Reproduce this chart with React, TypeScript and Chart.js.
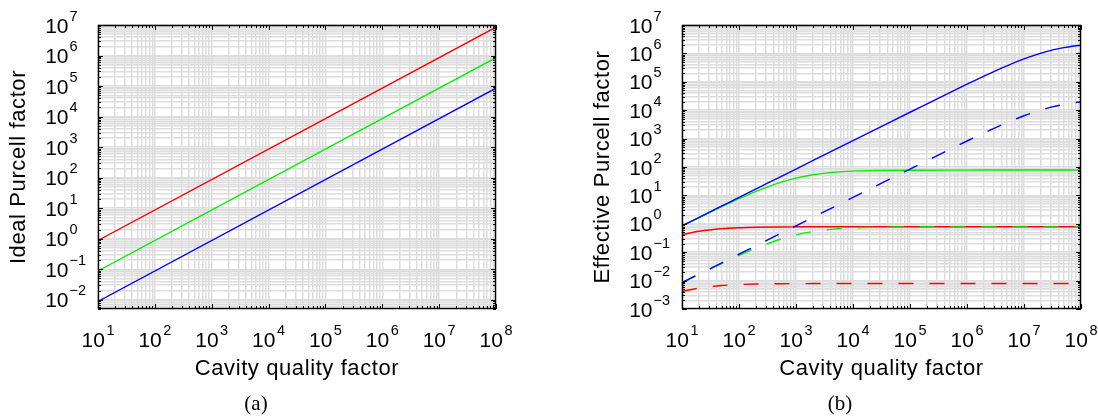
import { useEffect, useRef } from "react";
import { Chart, registerables } from "chart.js";

Chart.register(...registerables);

// ---------- Panel (a): ideal Purcell factor ----------
const qualityA = [10, 1e8];
const idealRed = [0.88, 8.5e6];
const idealGreen = [0.088, 8.5e5];
const idealBlue = [0.0088, 8.5e4];

// ---------- Panel (b): effective Purcell factor ----------
const qualityB = [10, 20, 50, 100, 200, 500, 1e3, 2e3, 5e3, 1e4, 3e4, 1e5, 1e6, 2e6, 5e6, 1e7, 2e7, 3e7, 5e7, 7e7, 1e8];
const effBlue = [0.85, 1.7, 4.25, 8.5, 17, 42.5, 85, 170, 425, 850, 2550, 8470, 8.23e4, 1.59e5, 3.64e5, 6.38e5, 1.02e6, 1.28e6, 1.59e6, 1.79e6, 1.96e6];
const effBlueDashed = [0.0085, 0.017, 0.0425, 0.085, 0.17, 0.425, 0.85, 1.7, 4.25, 8.5, 25.5, 84.7, 823, 1590, 3640, 6380, 1.02e4, 1.28e4, 1.59e4, 1.79e4, 1.96e4];
const effGreen = [0.84, 1.66, 4.03, 7.67, 13.97, 27.5, 40.7, 53.6, 66.1, 71.6, 75.9, 77.3, 77.9, 78, 78, 78, 78, 78, 78, 78, 78];
const effGreenDashed = [0.0084, 0.0166, 0.0403, 0.0767, 0.1397, 0.275, 0.407, 0.536, 0.661, 0.716, 0.759, 0.773, 0.779, 0.78, 0.78, 0.78, 0.78, 0.78, 0.78, 0.78, 0.78];
const effRed = [0.416, 0.545, 0.67, 0.725, 0.756, 0.776, 0.783, 0.786, 0.788, 0.789, 0.79, 0.79, 0.79, 0.79, 0.79, 0.79, 0.79, 0.79, 0.79, 0.79, 0.79];
const effRedDashed = [0.00416, 0.00545, 0.0067, 0.00725, 0.00756, 0.00776, 0.00783, 0.00786, 0.00788, 0.00789, 0.0079, 0.0079, 0.0079, 0.0079, 0.0079, 0.0079, 0.0079, 0.0079, 0.0079, 0.0079, 0.0079];

// ---------- Axes ----------
const xExponents = [1, 2, 3, 4, 5, 6, 7, 8];
const yExponentsA = [-2, -1, 0, 1, 2, 3, 4, 5, 6, 7];
const yExponentsB = [-3, -2, -1, 0, 1, 2, 3, 4, 5, 6, 7];
const xTitle = "Cavity quality factor";
const yTitleA = "Ideal Purcell factor";
const yTitleB = "Effective Purcell factor";
const captionA = "(a)";
const captionB = "(b)";

const SANS = "'Liberation Sans', Arial, sans-serif";
const SERIF = "'Liberation Serif', 'DejaVu Serif', serif";
const GRID = "rgb(221,221,221)";

function logTickValues(min: number, max: number) {
  const out: number[] = [];
  const e0 = Math.floor(Math.log10(min));
  const e1 = Math.ceil(Math.log10(max));
  for (let e = e0; e <= e1; e++) {
    for (let m = 1; m <= 9; m++) {
      const v = parseFloat((m * Math.pow(10, e)).toPrecision(6));
      if (v >= min * 0.9999 && v <= max * 1.0001) out.push(v);
    }
  }
  return out;
}

function isMajor(v: number) {
  const l = Math.log10(v);
  return Math.abs(l - Math.round(l)) < 1e-6;
}

function expText(e: number) {
  return e < 0 ? "\u2212" + String(-e) : String(e);
}

function makeDecor(yExps: number[], yTitle: string, caption: string) {
  return {
    id: "decor",
    afterDraw(chart: any) {
      const ctx = chart.ctx as CanvasRenderingContext2D;
      const { left, right, top, bottom } = chart.chartArea;
      const xs = chart.scales.x;
      const ys = chart.scales.y;
      ctx.save();
      // tick marks inside the box
      ctx.strokeStyle = "#000";
      ctx.lineWidth = 1;
      ctx.beginPath();
      for (const v of logTickValues(xs.min, xs.max)) {
        const p = Math.round(xs.getPixelForValue(v)) + 0.5;
        const len = isMajor(v) ? 5 : 3;
        ctx.moveTo(p, bottom);
        ctx.lineTo(p, bottom - len);
        ctx.moveTo(p, top);
        ctx.lineTo(p, top + len);
      }
      for (const v of logTickValues(ys.min, ys.max)) {
        const p = Math.round(ys.getPixelForValue(v)) + 0.5;
        const len = isMajor(v) ? 5 : 3;
        ctx.moveTo(left, p);
        ctx.lineTo(left + len, p);
        ctx.moveTo(right, p);
        ctx.lineTo(right - len, p);
      }
      ctx.stroke();
      // box
      ctx.lineWidth = 1.4;
      ctx.strokeRect(Math.round(left) + 0.5, Math.round(top) + 0.5, Math.round(right - left) - 1, Math.round(bottom - top) - 1);

      ctx.fillStyle = "#000";
      ctx.textBaseline = "alphabetic";
      // x tick labels
      for (const e of xExponents) {
        const px = xs.getPixelForValue(Math.pow(10, e));
        ctx.font = `21px ${SANS}`;
        const w1 = ctx.measureText("10").width;
        ctx.font = `14.5px ${SANS}`;
        const w2 = ctx.measureText(expText(e)).width;
        const start = px - (w1 + 1.5 + w2) / 2;
        ctx.font = `21px ${SANS}`;
        ctx.textAlign = "left";
        ctx.fillText("10", start, bottom + 38);
        ctx.font = `14.5px ${SANS}`;
        ctx.fillText(expText(e), start + w1 + 1.5, bottom + 26);
      }
      // y tick labels
      for (const e of yExps) {
        const py = ys.getPixelForValue(Math.pow(10, e));
        const baseRight = left - 29.5;
        ctx.font = `21px ${SANS}`;
        ctx.textAlign = "right";
        ctx.fillText("10", baseRight, py + 7.5);
        ctx.font = `14.5px ${SANS}`;
        ctx.textAlign = "left";
        ctx.fillText(expText(e), baseRight + 1, py - 4.5);
      }
      // axis titles
      ctx.font = `22px ${SANS}`;
      (ctx as any).letterSpacing = "0.6px";
      ctx.textAlign = "center";
      ctx.fillText(xTitle, (left + right) / 2, bottom + 66);
      ctx.save();
      ctx.translate(left - 79.5, (top + bottom) / 2);
      ctx.rotate(-Math.PI / 2);
      ctx.textBaseline = "middle";
      ctx.fillText(yTitle, 0, 0);
      ctx.restore();
      (ctx as any).letterSpacing = "0px";
      // caption
      ctx.font = `21px ${SERIF}`;
      ctx.textAlign = "center";
      ctx.textBaseline = "alphabetic";
      ctx.fillText(caption, left + 158, bottom + 101);
      ctx.restore();
    },
  };
}

function pts(xs: number[], ys: number[]) {
  return xs.map((x, i) => ({ x, y: ys[i] }));
}

function line(label: string, data: any[], color: string, dashed: boolean) {
  return {
    label,
    data,
    borderColor: color,
    backgroundColor: color,
    borderWidth: 1.4,
    pointRadius: 0,
    fill: false,
    showLine: true,
    cubicInterpolationMode: "monotone",
    borderDash: dashed ? [15, 16] : [],
  };
}

function scales(yMin: number, yMax: number) {
  const grid = { color: GRID, lineWidth: 1.5, drawTicks: false };
  return {
    x: {
      type: "logarithmic",
      min: 10,
      max: 1e8,
      grid,
      border: { display: false },
      ticks: { display: false },
      afterBuildTicks: (s: any) => {
        s.ticks = logTickValues(10, 1e8).map((v) => ({ value: v }));
      },
    },
    y: {
      type: "logarithmic",
      min: yMin,
      max: yMax,
      grid,
      border: { display: false },
      ticks: { display: false },
      afterBuildTicks: (s: any) => {
        s.ticks = logTickValues(yMin, yMax).map((v) => ({ value: v }));
      },
    },
  };
}

function makeChart(canvas: HTMLCanvasElement, datasets: any[], yMin: number, yMax: number, padding: any, decor: any) {
  return new Chart(canvas, {
    type: "scatter",
    data: { datasets },
    options: {
      animation: false,
      responsive: false,
      maintainAspectRatio: false,
      devicePixelRatio: 1,
      layout: { padding },
      plugins: { legend: { display: false }, tooltip: { enabled: false } },
      scales: scales(yMin, yMax) as any,
      elements: { line: { tension: 0 } },
    } as any,
    plugins: [decor],
  });
}

export default function App() {
  const refA = useRef<HTMLCanvasElement>(null);
  const refB = useRef<HTMLCanvasElement>(null);

  useEffect(() => {
    document.body.style.margin = "0";
    const a = makeChart(
      refA.current!,
      [
        line("Red", pts(qualityA, idealRed), "#ff0000", false),
        line("Green", pts(qualityA, idealGreen), "#00f000", false),
        line("Blue", pts(qualityA, idealBlue), "#0000ff", false),
      ],
      0.005,
      1e7,
      { left: 98, right: 54, top: 25, bottom: 107 },
      makeDecor(yExponentsA, yTitleA, captionA)
    );
    const b = makeChart(
      refB.current!,
      [
        line("Blue", pts(qualityB, effBlue), "#0000ff", false),
        line("Blue dashed", pts(qualityB, effBlueDashed), "#0000ff", true),
        line("Green", pts(qualityB, effGreen), "#00f000", false),
        line("Green dashed", pts(qualityB, effGreenDashed), "#00f000", true),
        line("Red", pts(qualityB, effRed), "#ff0000", false),
        line("Red dashed", pts(qualityB, effRedDashed), "#ff0000", true),
      ],
      0.001,
      1e7,
      { left: 132, right: 17, top: 25, bottom: 107 },
      makeDecor(yExponentsB, yTitleB, captionB)
    );
    return () => {
      a.destroy();
      b.destroy();
    };
  }, []);

  return (
    <div style={{ position: "relative", width: 1098, height: 416, background: "#fff", overflow: "hidden" }}>
      <canvas ref={refA} width={550} height={416} style={{ position: "absolute", left: 0, top: 0 }} />
      <canvas ref={refB} width={548} height={416} style={{ position: "absolute", left: 550, top: 0 }} />
    </div>
  );
}
